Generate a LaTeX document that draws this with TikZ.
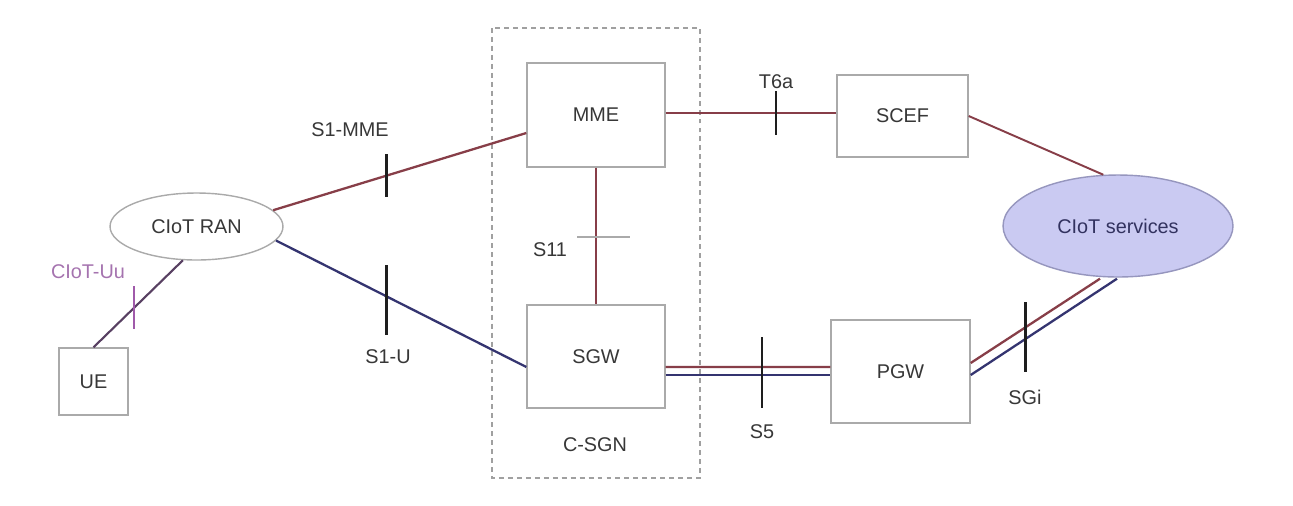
\documentclass[tikz,border=0pt]{standalone}
\usepackage{fontspec}
\setmainfont{Liberation Sans}
\usetikzlibrary{calc,shapes.geometric}
\definecolor{boxgray}{RGB}{170,170,170}
\definecolor{txtgray}{RGB}{55,55,55}
\definecolor{cpred}{RGB}{135,62,72}
\definecolor{upblue}{RGB}{52,52,112}
\definecolor{uupurple}{RGB}{88,64,98}
\definecolor{uulabel}{RGB}{165,115,175}
\definecolor{uutick}{RGB}{160,90,170}
\definecolor{svcfill}{RGB}{202,202,242}
\definecolor{svcline}{RGB}{150,150,190}
\definecolor{svctext}{RGB}{50,50,95}
\definecolor{tickblack}{RGB}{30,30,30}
\definecolor{dashgray}{RGB}{160,160,160}
\begin{document}
\begin{tikzpicture}[x=0.02cm,y=-0.02cm,
  font=\fontsize{11.3}{13}\selectfont,
  netbox/.style={draw=boxgray,line width=0.8pt,inner sep=0pt,text=txtgray},
  lbl/.style={text=txtgray,inner sep=0pt},
  cpline/.style={draw=cpred,line width=1.3pt},
  upline/.style={draw=upblue,line width=1.3pt},
  ticker/.style={draw=tickblack,line width=1.4pt}]
\useasboundingbox (0,0) rectangle (1293,505);
\fill[white] (0,0) rectangle (1293,505);

% C-SGN frame
\draw[dashgray,line width=0.8pt,dash pattern=on 2.8pt off 2.3pt] (492,28) rectangle (700,478);
\node[lbl] (csgn) at (595,445) {C-SGN};

% nodes
\node[netbox,minimum width=1.38cm,minimum height=1.34cm] (UE) at (93.5,381.5) {UE};
\node[netbox,ellipse,minimum width=3.46cm,minimum height=1.34cm] (RAN) at (196.5,226.5) {CIoT RAN};
\node[netbox,minimum width=2.76cm,minimum height=2.08cm] (MME) at (596,115) {MME};
\node[netbox,minimum width=2.76cm,minimum height=2.06cm] (SGW) at (596,356.5) {SGW};
\node[netbox,minimum width=2.62cm,minimum height=1.64cm] (SCEF) at (902.5,116) {SCEF};
\node[netbox,minimum width=2.78cm,minimum height=2.06cm] (PGW) at (900.5,371.5) {PGW};
\node[ellipse,draw=svcline,fill=svcfill,line width=0.8pt,inner sep=0pt,text=svctext,
      minimum width=4.6cm,minimum height=2.04cm] (SVC) at (1118,226) {CIoT services};

% UE - RAN
\draw[draw=uupurple,line width=1.2pt] (UE.north) -- (RAN.-112) coordinate[pos=0.45] (tuu);
\draw[draw=uutick,line width=1.2pt] ($(tuu)+(0,-22)$) -- ($(tuu)+(0,21)$);
\node[inner sep=0pt,text=uulabel] (luu) at (88,272) {CIoT-Uu};

% S1-MME
\draw[cpline] (RAN.12) -- ($(MME.west)+(0,18)$) coordinate[pos=0.448] (tmme);
\draw[ticker] ($(tmme)+(0,-21.5)$) -- ($(tmme)+(0,21.5)$);
\node[lbl] (ls1mme) at (350,130) {S1-MME};

% S1-U
\draw[upline] (RAN.-10) -- ($(SGW.west)+(0,10.5)$) coordinate[pos=0.442] (ts1u);
\draw[ticker] ($(ts1u)+(0,-31)$) -- ($(ts1u)+(0,39)$);
\node[lbl] (ls1u) at (388,357) {S1-U};

% S11
\draw[draw=cpred,line width=1pt] (MME.south) -- (SGW.north) coordinate[pos=0.507] (ts11);
\draw[draw=boxgray,line width=1pt] ($(ts11)+(-19,0)$) -- ($(ts11)+(34,0)$);
\node[lbl] (ls11) at (550,250) {S11};

% T6a
\draw[cpline] ($(MME.east)+(0,-2)$) -- ($(SCEF.west)+(0,-3)$) coordinate[pos=0.645] (tt6a);
\draw[ticker] ($(tt6a)+(0,-22)$) -- ($(tt6a)+(0,22)$);
\node[lbl] (lt6a) at (776,82) {T6a};

% SCEF - services
\draw[cpline,line width=1.1pt] (SCEF.east) -- (SVC.106);

% S5
\draw[cpline] ($(SGW.east)+(0,10.5)$) -- ($(PGW.west)+(0,-4.5)$) coordinate[pos=0.584] (ts5);
\draw[upline] ($(SGW.east)+(0,18.5)$) -- ($(PGW.west)+(0,3.5)$);
\draw[ticker] ($(ts5)+(0,-30)$) -- ($(ts5)+(0,41)$);
\node[lbl] (ls5) at (762,432) {S5};

% SGi
\draw[cpline] ($(PGW.east)+(0,-8.5)$) -- ($(SVC.south)+(-18,1)$) coordinate[pos=0.423] (tsgi);
\draw[upline] ($(PGW.east)+(0,3.5)$) -- ($(SVC.south)+(-1,1)$);
\draw[ticker] ($(tsgi)+(0,-25)$) -- ($(tsgi)+(0,45)$);
\node[lbl] (lsgi) at (1025,397) {SGi};
\end{tikzpicture}
\end{document}
